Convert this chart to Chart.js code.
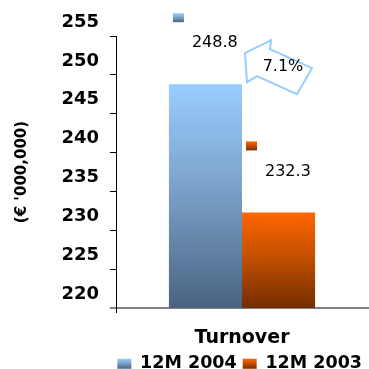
<!DOCTYPE html>
<html><head><meta charset="utf-8">
<script src="https://cdn.jsdelivr.net/npm/chart.js@4/dist/chart.umd.min.js"></script>
<style>html,body{margin:0;padding:0;background:#fff;}</style>
</head><body>
<canvas id="c" width="369" height="369"></canvas>
<script>
const categories = ['Turnover'];
const seriesNames = ['12M 2004', '12M 2003'];
const values2004 = [248.8];
const values2003 = [232.3];
const yTicks = [220, 225, 230, 235, 240, 245, 250, 255];
const growthLabel = '7.1%';
const yTitle = "(€ '000,000)";

const FAM = "'DejaVu Sans'";
const blueStops = [[0, '#9acdff'], [0.45, '#7ca3cb'], [1, '#4a6380']];
const orangeStops = [[0, '#ff6600'], [0.45, '#c65000'], [1, '#732e00']];
const stopsList = [blueStops, orangeStops];
const solid = ['#7ba2ca', '#c65000'];

function grad(ctx, y0, y1, stops) {
  const g = ctx.createLinearGradient(0, y0, 0, y1);
  stops.forEach(s => g.addColorStop(s[0], s[1]));
  return g;
}

function barColor(di) {
  return function (c) {
    const chart = c.chart;
    if (c.type !== 'data' || !chart.chartArea || c.raw == null) return solid[di];
    const yTop = chart.scales.y.getPixelForValue(c.raw);
    const yBot = chart.scales.y.getPixelForValue(chart.scales.y.min);
    if (!isFinite(yTop) || !isFinite(yBot)) return solid[di];
    return grad(chart.ctx, yTop, yBot, stopsList[di]);
  };
}

const decorPlugin = {
  id: 'decor',
  afterDatasetsDraw(chart) {
    const ctx = chart.ctx;
    ctx.save();
    chart.data.datasets.forEach((ds, di) => {
      const meta = chart.getDatasetMeta(di);
      meta.data.forEach((bar, i) => {
        const left = bar.x - bar.width / 2;
        const top = bar.y;
        const sx = left + 4, sy = top - 71, sw = 11, sh = 9;
        ctx.fillStyle = grad(ctx, sy, sy + sh, stopsList[di]);
        ctx.fillRect(sx, sy, sw, sh);
        ctx.font = '16px ' + FAM;
        ctx.fillStyle = '#000';
        ctx.textAlign = 'left';
        ctx.textBaseline = 'middle';
        ctx.fillText(String(ds.data[i]), left + 23, top - 41);
      });
    });
    // growth arrow
    const x0 = chart.scales.x.getPixelForValue(0);
    const y0 = chart.scales.y.getPixelForValue(values2004[0]);
    const pts = [[3, -31], [29, -44], [28, -35], [70, -16], [55, 10], [15, -8], [5, -2]];
    ctx.beginPath();
    pts.forEach((p, k) => {
      if (k === 0) ctx.moveTo(x0 + p[0], y0 + p[1]);
      else ctx.lineTo(x0 + p[0], y0 + p[1]);
    });
    ctx.closePath();
    ctx.strokeStyle = '#99ccff';
    ctx.lineWidth = 2;
    ctx.lineJoin = 'miter';
    ctx.stroke();
    ctx.font = '16px ' + FAM;
    ctx.fillStyle = '#000';
    ctx.textAlign = 'center';
    ctx.textBaseline = 'middle';
    ctx.fillText(growthLabel, x0 + 41, y0 - 17);
    ctx.restore();
  }
};

new Chart(document.getElementById('c'), {
  type: 'bar',
  data: {
    labels: categories,
    datasets: [
      { label: seriesNames[0], data: values2004, backgroundColor: barColor(0), borderWidth: 0 },
      { label: seriesNames[1], data: values2003, backgroundColor: barColor(1), borderWidth: 0 }
    ]
  },
  options: {
    responsive: false,
    animation: false,
    devicePixelRatio: 1,
    barPercentage: 1,
    categoryPercentage: 0.58,
    layout: { padding: { top: 36, right: 1, bottom: -13.5, left: 0 } },
    plugins: {
      tooltip: { enabled: false },
      legend: {
        position: 'bottom',
        align: 'end',
        labels: {
          font: { family: FAM, size: 17.5, weight: 'bold' },
          color: '#000',
          boxWidth: 14,
          boxHeight: 10,
          padding: 6,
          generateLabels(chart) {
            const items = Chart.defaults.plugins.legend.labels.generateLabels(chart);
            const lg = chart.legend;
            items.forEach((it, k) => {
              it.lineWidth = 0;
              it.strokeStyle = 'rgba(0,0,0,0)';
              if (lg && isFinite(lg.top)) {
                const lo = lg.options.labels;
                const fs = lo.font.size || 17.5;
                const y0 = lg.top + lo.padding + Math.max((fs - lo.boxHeight) / 2, 0);
                it.fillStyle = grad(chart.ctx, y0, y0 + lo.boxHeight, stopsList[k]);
              } else {
                it.fillStyle = solid[k];
              }
            });
            return items;
          }
        }
      }
    },
    scales: {
      x: {
        type: 'category',
        offset: true,
        grid: {
          display: true,
          drawOnChartArea: false,
          drawTicks: true,
          tickLength: 5,
          lineWidth: 1,
          color: c => (c.index === 0 ? '#000' : 'rgba(0,0,0,0)')
        },
        border: { display: true, color: '#808080', width: 2 },
        ticks: { font: { family: FAM, size: 19, weight: 'bold' }, color: '#000', padding: 14 },
        afterFit(s) { s.height = 41; }
      },
      y: {
        min: yTicks[0],
        max: yTicks[yTicks.length - 1],
        afterBuildTicks(s) { s.ticks = yTicks.map(v => ({ value: v })); },
        grid: {
          display: true,
          drawOnChartArea: false,
          drawTicks: true,
          tickLength: 6,
          color: c => (c.tick && c.tick.value === yTicks[0] ? '#808080' : '#000'),
          lineWidth: c => (c.tick && c.tick.value === yTicks[0] ? 2 : 1)
        },
        border: { display: true, color: '#000', width: 1 },
        ticks: {
          font: { family: FAM, size: 18, weight: 'bold' },
          color: '#000',
          padding: 11,
          labelOffset: -14
        },
        title: {
          display: true,
          text: yTitle,
          font: { family: FAM, size: 15, weight: 'bold' },
          color: '#000',
          padding: { top: 13.5, bottom: 0 }
        },
        afterFit(s) { s.width = 116; }
      }
    }
  },
  plugins: [decorPlugin]
});
</script>
</body></html>
